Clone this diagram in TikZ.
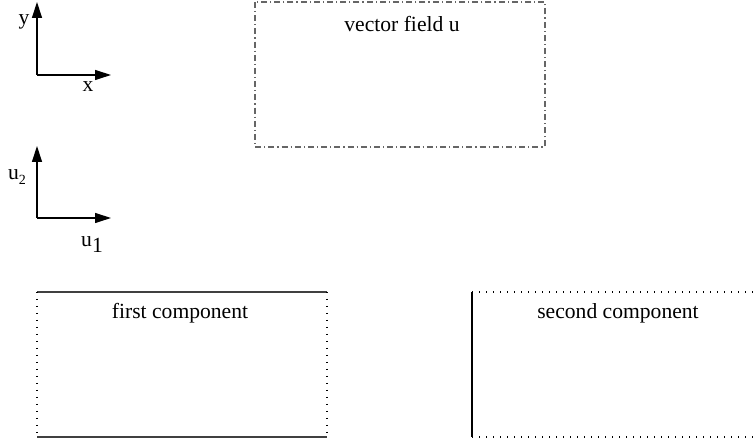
\documentclass[tikz,border=0pt]{standalone}
\usepackage{fontspec}
\setmainfont{Liberation Serif}
\usetikzlibrary{arrows.meta}
\tikzset{
  axis/.style={line width=0.6pt, -{Triangle[length=8pt,width=5pt]}},
  dashdot/.style={draw=black!60, line width=0.6pt, dash pattern=on 3pt off 1.5pt on 0.6pt off 1.5pt},
  dotline/.style={draw=black, line width=0.6pt, dash pattern=on 0.5pt off 3pt},
  solidline/.style={draw=black!75, line width=0.7pt},
  lbl/.style={font=\fontsize{10.8}{12}\selectfont, inner sep=0pt}
}
\begin{document}
\begin{tikzpicture}[x=0.5pt,y=-0.5pt]
\useasboundingbox (0,0) rectangle (756,442);
% x-y axes
\coordinate (o1) at (37,75);
\coordinate (ytip) at (37,2);
\coordinate (xtip) at (111,75);
\draw[axis] (o1) -- (ytip);
\draw[axis] (o1) -- (xtip);
\node[lbl] (ylab) at (24,22) {y};
\node[lbl] (xlab) at (88,87) {x};
% u1-u2 axes
\coordinate (o2) at (37,218);
\coordinate (u2tip) at (37,146);
\coordinate (u1tip) at (111,218);
\draw[axis] (o2) -- (u2tip);
\draw[axis] (o2) -- (u1tip);
\node[lbl] (u2lab) at (17,177) {u\raisebox{-0.55ex}{\fontsize{7}{8}\selectfont 2}};
\node[lbl] (u1lab) at (92,245) {u\raisebox{-0.6ex}{1}};
% vector field box
\draw[dashdot] (255,2) rectangle (545,147);
\node[lbl] (vf) at (402,24) {vector field u};
% first component
\draw[solidline] (37,292) -- (327,292);
\draw[solidline] (37,437) -- (327,437);
\draw[dotline] (37,292) -- (37,437);
\draw[dotline] (327,292) -- (327,437);
\node[lbl] (fc) at (180,313) {first component};
% second component
\draw[solidline, draw=black] (472,292) -- (472,437);
\draw[dotline] (472,292) -- (756,292);
\draw[dotline] (472,437) -- (756,437);
\node[lbl] (sc) at (618,313) {second component};
\end{tikzpicture}
\end{document}
